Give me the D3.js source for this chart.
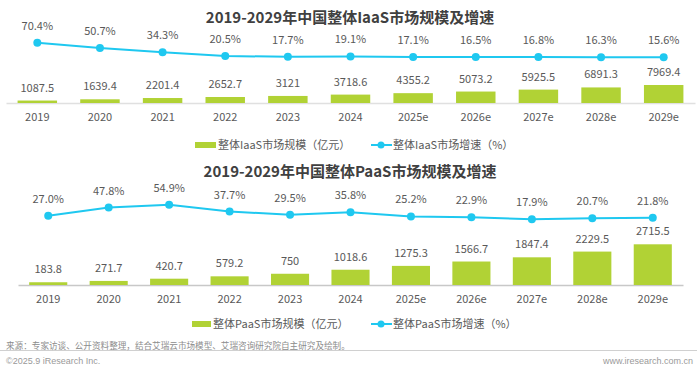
<!DOCTYPE html>
<html><head><meta charset="utf-8">
<script src="https://cdn.jsdelivr.net/npm/d3@7"></script>
<style>
html,body{margin:0;padding:0;background:#fff;}
svg{display:block;font-family:"Noto Sans CJK SC","Noto Sans",sans-serif;}
</style></head>
<body><svg id="c" width="700" height="371"></svg>
<script>
const years = ["2019","2020","2021","2022","2023","2024","2025e","2026e","2027e","2028e","2029e"];
const iaasSize = [1087.5,1639.4,2201.4,2652.7,3121,3718.6,4355.2,5073.2,5925.5,6891.3,7969.4];
const iaasGrowth = [70.4,50.7,34.3,20.5,17.7,19.1,17.1,16.5,16.8,16.3,15.6];
const paasSize = [183.8,271.7,420.7,579.2,750,1018.6,1275.3,1566.7,1847.4,2229.5,2715.5];
const paasGrowth = [27.0,47.8,54.9,37.7,29.5,35.8,25.2,22.9,17.9,20.7,21.8];
const titles = ["2019-2029年中国整体IaaS市场规模及增速","2019-2029年中国整体PaaS市场规模及增速"];
const legendBar = ["整体IaaS市场规模（亿元）","整体PaaS市场规模（亿元）"];
const legendLine = ["整体IaaS市场增速（%）","整体PaaS市场增速（%）"];

const GREEN = "#b1d235", BLUE = "#1fc8f0", TXT = "#595959";
const svg = d3.select("#c");

function panel(cfg){
  const g = svg.append("g");
  g.append("text").attr("x",350).attr("y",cfg.titleY).attr("text-anchor","middle")
    .attr("font-size",15).attr("font-weight","bold").attr("fill","#404040").text(cfg.title);
  const x = d3.scaleBand().domain(years).range(cfg.xr).paddingInner(0.37).paddingOuter(0.185);
  const yb = d3.scaleLinear().domain([0, d3.max(cfg.size)]).range([cfg.base, cfg.base - cfg.barH]);
  const yl = d3.scaleLinear().domain([0,100]).range(cfg.lineR);
  // axis
  const ax = g.append("g").attr("transform",`translate(0,${cfg.base})`)
    .call(d3.axisBottom(x).tickSize(0).tickPadding(cfg.tickPad));
  ax.select(".domain").attr("stroke",cfg.axisColor).attr("stroke-width",1.5);
  ax.selectAll("text").attr("font-size",11).attr("fill",TXT).attr("font-family","'Noto Sans CJK SC',sans-serif");
  // bars
  g.selectAll(".bar").data(cfg.size).join("rect")
    .attr("x",(d,i)=>x(years[i])).attr("width",x.bandwidth())
    .attr("y",d=>yb(d)).attr("height",d=>cfg.base-yb(d)).attr("fill",GREEN);
  g.selectAll(".bl").data(cfg.size).join("text")
    .attr("x",(d,i)=>x(years[i])+x.bandwidth()/2).attr("y",d=>yb(d)-9)
    .attr("text-anchor","middle").attr("font-size",11).attr("fill",TXT).text(d=>d);
  // line
  const line = d3.line().x((d,i)=>x(years[i])+x.bandwidth()/2).y(d=>yl(d));
  g.append("path").datum(cfg.growth).attr("d",line).attr("fill","none").attr("stroke",BLUE).attr("stroke-width",2);
  g.selectAll(".dot").data(cfg.growth).join("circle")
    .attr("cx",(d,i)=>x(years[i])+x.bandwidth()/2).attr("cy",d=>yl(d)).attr("r",4).attr("fill",BLUE);
  g.selectAll(".ll").data(cfg.growth).join("text")
    .attr("x",(d,i)=>x(years[i])+x.bandwidth()/2).attr("y",d=>yl(d)-13)
    .attr("text-anchor","middle").attr("font-size",11).attr("fill",TXT).text(d=>d.toFixed(1)+"%");
  // legend
  const ly = cfg.legendY;
  g.append("rect").attr("x",cfg.lgRect[0]).attr("y",ly-3).attr("width",cfg.lgRect[1]-cfg.lgRect[0]).attr("height",6).attr("fill",GREEN);
  g.append("text").attr("x",cfg.lgRect[1]+2).attr("y",ly+4).attr("font-size",11).attr("fill",TXT).text(cfg.lb);
  g.append("line").attr("x1",371).attr("x2",392).attr("y1",ly).attr("y2",ly).attr("stroke",BLUE).attr("stroke-width",2);
  g.append("circle").attr("cx",381).attr("cy",ly).attr("r",3.5).attr("fill",BLUE);
  g.append("text").attr("x",393).attr("y",ly+4).attr("font-size",11).attr("fill",TXT).text(cfg.ll);
}

panel({title:titles[0],titleY:23,xr:[6,695],base:103,barH:18,lineR:[61.5,34.8],size:iaasSize,growth:iaasGrowth,
  tickPad:10,axisColor:"#e0e0e0",legendY:145,lgRect:[195,216],lb:legendBar[0],ll:legendLine[0]});
panel({title:titles[1],titleY:177,xr:[18,683],base:285,barH:40.7,lineR:[226.4,186.9],size:paasSize,growth:paasGrowth,
  tickPad:10,axisColor:"#c8c8c8",legendY:324,lgRect:[192,211],lb:legendBar[1],ll:legendLine[1]});

// footer
svg.append("line").attr("x1",0).attr("x2",697).attr("y1",350.5).attr("y2",350.5).attr("stroke","#d0d0d0").attr("stroke-width",1);
svg.append("text").attr("x",6).attr("y",349).attr("font-size",8.6).attr("fill","#8c8c8c")
  .text("来源：专家访谈、公开资料整理，结合艾瑞云市场模型、艾瑞咨询研究院自主研究及绘制。");
svg.append("text").attr("x",6).attr("y",363.5).attr("font-size",9).attr("fill","#9a9a9a").attr("font-family","'Liberation Sans',Arial,sans-serif")
  .text("©2025.9 iResearch Inc.");
svg.append("text").attr("x",693).attr("y",363.5).attr("text-anchor","end").attr("font-size",9).attr("fill","#9a9a9a").attr("font-family","'Liberation Sans',Arial,sans-serif")
  .text("www.iresearch.com.cn");
</script></body></html>
